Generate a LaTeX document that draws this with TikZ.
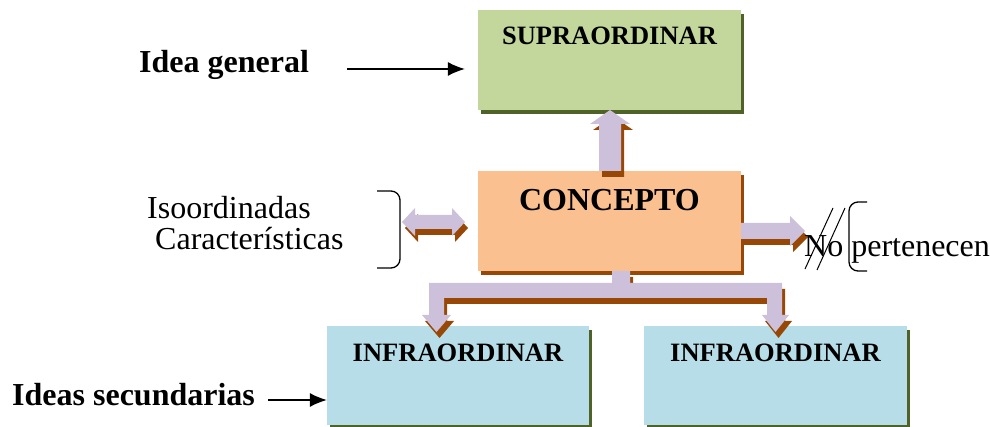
\documentclass[tikz,border=0pt]{standalone}
\usepackage{fontspec}
\setmainfont{Liberation Serif}
\usetikzlibrary{arrows.meta, shadows}

\definecolor{supragreen}{HTML}{C3D69B}
\definecolor{oliveshade}{HTML}{4F6228}
\definecolor{conceptorange}{HTML}{FAC090}
\definecolor{brownshade}{HTML}{984806}
\definecolor{infrablue}{HTML}{B7DEE8}
\definecolor{lavender}{HTML}{CCC0DA}

\tikzset{
  box/.style={inner sep=0, minimum width=263pt, minimum height=100pt},
  greenshadow/.style={drop shadow={shadow xshift=3pt, shadow yshift=-4pt, fill=oliveshade, opacity=1}},
  brownshadow/.style={drop shadow={shadow xshift=3pt, shadow yshift=-4pt, fill=brownshade, opacity=1}},
  boxtext/.style={inner sep=0, anchor=base, font=\fontsize{26.5}{30}\selectfont\bfseries},
  sidetext/.style={inner sep=0, anchor=base west, font=\fontsize{32}{36}\selectfont},
  pointer/.style={line width=1.2pt, -{Latex[length=17pt, width=14pt]}},
}

\begin{document}
\begin{tikzpicture}[x=1pt, y=-1pt]
\useasboundingbox (0,0) rectangle (990,427);

% boxes
\node[box, fill=supragreen, greenshadow] (supra) at (609.5,60) {};
\node[box, fill=conceptorange, brownshadow] (concept) at (609.5,221) {};
\node[box, fill=infrablue, greenshadow, minimum width=262pt, minimum height=99pt] (infraL) at (458,375.5) {};
\node[box, fill=infrablue, greenshadow, minimum height=99pt] (infraR) at (775.5,375.5) {};

\node[boxtext] (supratxt) at ([yshift=-35pt]supra.north) {SUPRAORDINAR};
\node[boxtext, font=\fontsize{32}{36}\selectfont\bfseries] (concepttxt) at ([yshift=-40pt]concept.north) {CONCEPTO};
\node[boxtext] (infraLtxt) at ([yshift=-36pt]infraL.north) {INFRAORDINAR};
\node[boxtext] (infraRtxt) at ([yshift=-36pt]infraR.north) {INFRAORDINAR};

% block arrows: brown shade first, then the face
\foreach \c/\s in {brownshade/{(3,6)}, lavender/{(0,0)}} {
  \fill[\c, shift={\s}] (599,171) -- (599,124) -- (590,124) -- (610,110)
    -- (630,124) -- (621,124) -- (621,171) -- cycle;
  \fill[\c, shift={\s}] (402,222) -- (415,208) -- (415,215) -- (452,215)
    -- (452,208) -- (465,222) -- (452,236) -- (452,229) -- (415,229)
    -- (415,236) -- cycle;
  \fill[\c, shift={\s}] (741,223) -- (790,223) -- (790,216) -- (805,231)
    -- (790,246) -- (790,239) -- (741,239) -- cycle;
  \fill[\c, shift={\s}] (612,271) -- (630,271) -- (630,283) -- (782,283)
    -- (782,315) -- (789,315) -- (775.5,332) -- (762,315) -- (767,315)
    -- (767,298) -- (444,298) -- (444,315) -- (451,315) -- (436.5,332)
    -- (422,315) -- (429,315) -- (429,283) -- (612,283) -- cycle;
}

% side labels
\node[sidetext, font=\fontsize{32}{36}\selectfont\bfseries] (general) at (139,73) {Idea general};
\node[sidetext, font=\fontsize{32}{36}\selectfont\bfseries] (secundarias) at (12,405) {Ideas secundarias};
\node[sidetext] (iso) at (147,219) {Isoordinadas};
\node[sidetext] (carac) at (155,250) {Características};
\node[sidetext] (nopert) at (804,257) {No pertenecen};

\path
(347,69) coordinate (ga)
(268,400) coordinate (sa)
;
\draw[pointer, shorten >=13pt] (ga) -- (ga -| supra.west);
\draw[pointer] (sa) -- (sa -| infraL.west);

% brackets
\draw[line width=1.3pt, rounded corners=9pt] (377,191) -- (400,191) -- (400,268) -- (377,268);
\draw[line width=1.3pt, rounded corners=9pt] (867,202) -- (849,202) -- (849,271) -- (867,271);

% crossing out
\draw[line width=1pt] (805,269) -- (833,208) (817,270) -- (845,208);

\end{tikzpicture}
\end{document}
